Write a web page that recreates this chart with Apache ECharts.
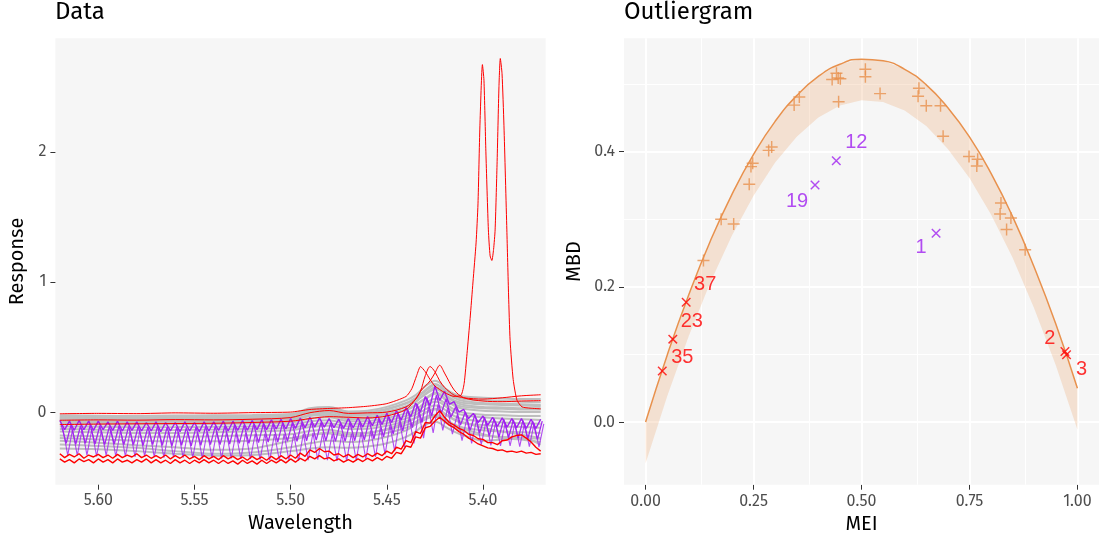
<!DOCTYPE html>
<html>
<head>
<meta charset="utf-8">
<title>Data / Outliergram</title>
<script src="https://cdn.jsdelivr.net/npm/echarts@6/dist/echarts.min.js"></script>
<style>
  html, body { margin: 0; padding: 0; background: #fff; }
  #chart { width: 1099px; height: 543px; }
</style>
</head>
<body>
<div id="chart"></div>
<script>
// ---- left panel: functional data ----
const coarseWaves = [5.62, 5.60, 5.58, 5.56, 5.54, 5.52, 5.50, 5.49, 5.48, 5.47, 5.46, 5.45, 5.44,
  5.435, 5.4325, 5.43, 5.4275, 5.425, 5.4225, 5.42, 5.415, 5.41, 5.40, 5.39, 5.38, 5.37]

const grayCurves = [
  [-0.025,-0.028,-0.03,-0.027,-0.025,-0.022,-0.015,0.03,0.04,0.005,0.01,0.04,0.09,0.13,0.165,0.2,0.225,0.24,0.225,0.185,0.14,0.12,0.11,0.105,0.1,0.1],
  [-0.035,-0.038,-0.04,-0.036,-0.034,-0.03,-0.025,0.02,0.03,0.0,0.0,0.025,0.07,0.11,0.14,0.17,0.2,0.215,0.2,0.16,0.11,0.085,0.07,0.065,0.06,0.055],
  [-0.042,-0.045,-0.048,-0.045,-0.043,-0.04,-0.033,0.012,0.022,-0.01,-0.012,0.02,0.065,0.1,0.13,0.16,0.19,0.21,0.2,0.17,0.12,0.1,0.09,0.085,0.08,0.075],
  [-0.05,-0.053,-0.056,-0.052,-0.05,-0.047,-0.04,0.0,0.01,-0.02,-0.02,0.005,0.045,0.08,0.11,0.135,0.16,0.175,0.165,0.13,0.08,0.055,0.04,0.035,0.03,0.03],
  [-0.056,-0.06,-0.062,-0.058,-0.055,-0.052,-0.046,-0.005,0.0,-0.03,-0.025,0.0,0.04,0.08,0.11,0.14,0.17,0.19,0.18,0.14,0.09,0.07,0.06,0.055,0.05,0.045],
  [-0.065,-0.068,-0.07,-0.067,-0.065,-0.062,-0.057,-0.02,-0.012,-0.045,-0.04,-0.015,0.02,0.055,0.08,0.1,0.125,0.14,0.13,0.1,0.05,0.025,0.01,0.005,0.0,0.0],
  [-0.075,-0.078,-0.08,-0.078,-0.076,-0.072,-0.066,-0.03,-0.022,-0.055,-0.05,-0.025,0.015,0.05,0.08,0.105,0.13,0.15,0.14,0.11,0.06,0.04,0.03,0.025,0.02,0.02],
  [-0.09,-0.093,-0.096,-0.094,-0.092,-0.088,-0.08,-0.05,-0.04,-0.07,-0.068,-0.045,-0.01,0.02,0.045,0.07,0.09,0.1,0.095,0.07,0.02,-0.005,-0.02,-0.025,-0.03,-0.03],
  [-0.11,-0.113,-0.116,-0.115,-0.112,-0.108,-0.1,-0.07,-0.062,-0.09,-0.088,-0.065,-0.03,0.0,0.025,0.05,0.07,0.08,0.075,0.05,0.0,-0.025,-0.04,-0.05,-0.055,-0.06],
  [-0.13,-0.135,-0.14,-0.138,-0.134,-0.128,-0.12,-0.095,-0.085,-0.11,-0.108,-0.085,-0.05,-0.02,0.0,0.02,0.04,0.05,0.045,0.02,-0.03,-0.055,-0.07,-0.08,-0.085,-0.09],
  [-0.15,-0.155,-0.16,-0.16,-0.155,-0.148,-0.14,-0.115,-0.105,-0.13,-0.128,-0.105,-0.07,-0.045,-0.025,-0.005,0.01,0.02,0.015,-0.01,-0.06,-0.085,-0.1,-0.11,-0.115,-0.12],
  [-0.18,-0.185,-0.19,-0.19,-0.186,-0.178,-0.17,-0.145,-0.135,-0.16,-0.158,-0.135,-0.1,-0.075,-0.055,-0.04,-0.025,-0.02,-0.025,-0.05,-0.095,-0.12,-0.14,-0.15,-0.155,-0.16],
  [-0.22,-0.235,-0.255,-0.27,-0.29,-0.28,-0.22,-0.18,-0.155,-0.17,-0.16,-0.13,-0.08,-0.045,-0.025,-0.005,0.015,0.025,0.015,-0.015,-0.055,-0.08,-0.12,-0.15,-0.175,-0.2],
  [-0.25,-0.26,-0.275,-0.3,-0.32,-0.31,-0.27,-0.24,-0.22,-0.23,-0.22,-0.19,-0.14,-0.095,-0.075,-0.055,-0.035,-0.025,-0.035,-0.065,-0.1,-0.13,-0.17,-0.2,-0.21,-0.23],
  [-0.28,-0.285,-0.3,-0.32,-0.335,-0.33,-0.3,-0.28,-0.27,-0.275,-0.265,-0.24,-0.19,-0.15,-0.12,-0.1,-0.08,-0.075,-0.085,-0.11,-0.15,-0.18,-0.22,-0.21,-0.195,-0.25],
  [-0.2,-0.21,-0.22,-0.225,-0.225,-0.22,-0.2,-0.175,-0.165,-0.185,-0.18,-0.16,-0.12,-0.09,-0.07,-0.055,-0.04,-0.035,-0.045,-0.075,-0.12,-0.15,-0.18,-0.19,-0.2,-0.205]
]

// smooth red outliers (top)
const red2 = [-0.063,-0.06,-0.062,-0.058,-0.06,-0.055,-0.042,-0.005,0.012,-0.01,-0.006,0.0,0.04,0.1,0.16,0.28,0.35,0.31,0.24,0.19,0.13,0.11,0.1,0.11,0.125,0.133]
const red3 = [-0.096,-0.092,-0.09,-0.088,-0.086,-0.08,-0.07,-0.05,-0.035,-0.04,-0.045,-0.03,0.02,0.1,0.16,0.2,0.24,0.3,0.36,0.3,0.17,0.11,0.085,0.08,0.085,0.088]

// red outlier with the double peak
const peakWaves = [5.62, 5.60, 5.58, 5.56, 5.54, 5.52, 5.50, 5.49, 5.48, 5.47, 5.46, 5.45, 5.44, 5.437, 5.4345,
  5.4325, 5.43, 5.4275, 5.425, 5.42, 5.415, 5.4114, 5.4098, 5.4083, 5.4067, 5.4052, 5.4036, 5.4026, 5.4016,
  5.4003, 5.3995, 5.3985, 5.3972, 5.3963, 5.3954, 5.3945, 5.3937, 5.3927, 5.3917, 5.391, 5.3901, 5.3891,
  5.3876, 5.3867, 5.3859, 5.3843, 5.3823, 5.3797, 5.3755, 5.37]
const peakValues = [-0.013, -0.01, -0.012, -0.006, -0.009, -0.004, 0.0, 0.02, 0.028, 0.034, 0.045, 0.065, 0.12,
  0.18, 0.28, 0.35, 0.31, 0.25, 0.2, 0.15, 0.12, 0.13, 0.22, 0.45, 0.72, 1.0, 1.3, 1.6, 2.2, 2.67, 2.55, 2.0,
  1.4, 1.2, 1.165, 1.25, 1.4, 1.9, 2.5, 2.717, 2.6, 2.2, 1.4, 0.9, 0.55, 0.25, 0.09, 0.04, 0.03, 0.025]

// noisy curves sampled every 0.0025 from 5.62 down to 5.37
const fineWaves = []
for (let i = 0; i <= 100; i++) fineWaves.push(+(5.62 - i * 0.0025).toFixed(4))

const purple1 = [
  -0.065,-0.135,-0.07,-0.14,-0.065,-0.135,-0.07,-0.14,-0.07,-0.135,
  -0.075,-0.14,-0.07,-0.145,-0.075,-0.14,-0.075,-0.145,-0.08,-0.145,
  -0.075,-0.15,-0.08,-0.145,-0.08,-0.15,-0.075,-0.145,-0.08,-0.15,
  -0.075,-0.145,-0.075,-0.14,-0.07,-0.145,-0.07,-0.14,-0.065,-0.14,
  -0.065,-0.135,-0.06,-0.135,-0.06,-0.13,-0.055,-0.13,-0.05,-0.125,
  -0.045,-0.12,-0.04,-0.115,-0.045,-0.115,-0.05,-0.12,-0.055,-0.125,
  -0.05,-0.12,-0.045,-0.115,-0.035,-0.105,-0.025,-0.095,-0.01,-0.08,
  0.01,-0.06,0.035,-0.035,0.07,0.0,0.12,0.05,0.2,0.09,
  0.16,0.06,0.08,0.0,0.02,-0.05,-0.01,-0.08,-0.03,-0.1,
  -0.04,-0.11,-0.045,-0.115,-0.05,-0.12,-0.05,-0.125,-0.055,-0.125,
  -0.055]
const purple2 = [
  -0.1,-0.24,-0.1,-0.245,-0.105,-0.24,-0.1,-0.245,-0.105,-0.25,
  -0.11,-0.245,-0.105,-0.25,-0.11,-0.25,-0.11,-0.255,-0.115,-0.25,
  -0.11,-0.255,-0.115,-0.26,-0.115,-0.255,-0.12,-0.26,-0.115,-0.255,
  -0.11,-0.25,-0.11,-0.25,-0.105,-0.245,-0.1,-0.24,-0.1,-0.24,
  -0.095,-0.235,-0.09,-0.23,-0.09,-0.23,-0.085,-0.225,-0.085,-0.225,
  -0.08,-0.22,-0.075,-0.215,-0.08,-0.22,-0.085,-0.225,-0.085,-0.225,
  -0.08,-0.22,-0.075,-0.215,-0.065,-0.205,-0.05,-0.19,-0.03,-0.17,
  -0.005,-0.145,0.02,-0.12,0.06,-0.08,0.11,-0.03,0.13,-0.01,
  0.1,-0.04,0.04,-0.1,0.0,-0.14,-0.02,-0.16,-0.04,-0.18,
  -0.05,-0.19,-0.055,-0.195,-0.06,-0.2,-0.065,-0.205,-0.07,-0.21,
  -0.07]
const purple3 = [
  -0.13,-0.33,-0.135,-0.335,-0.13,-0.33,-0.135,-0.34,-0.14,-0.335,
  -0.135,-0.34,-0.14,-0.34,-0.145,-0.345,-0.14,-0.34,-0.145,-0.345,
  -0.15,-0.35,-0.145,-0.345,-0.15,-0.35,-0.15,-0.35,-0.155,-0.355,
  -0.15,-0.35,-0.15,-0.355,-0.155,-0.355,-0.16,-0.36,-0.16,-0.36,
  -0.165,-0.365,-0.165,-0.37,-0.17,-0.37,-0.17,-0.37,-0.17,-0.375,
  -0.165,-0.37,-0.16,-0.365,-0.165,-0.37,-0.17,-0.375,-0.17,-0.375,
  -0.165,-0.37,-0.155,-0.36,-0.14,-0.345,-0.12,-0.325,-0.1,-0.3,
  -0.07,-0.27,-0.04,-0.24,0.0,-0.2,0.04,-0.16,0.06,-0.14,
  0.03,-0.17,-0.02,-0.22,-0.05,-0.24,-0.06,-0.25,-0.07,-0.255,
  -0.075,-0.26,-0.08,-0.26,-0.08,-0.265,-0.085,-0.265,-0.085,-0.27,
  -0.09]

// noisy red outliers (bottom)
const red4 = [
  -0.32,-0.35,-0.325,-0.345,-0.32,-0.355,-0.33,-0.345,-0.325,-0.35,
  -0.33,-0.355,-0.325,-0.35,-0.33,-0.345,-0.32,-0.35,-0.33,-0.355,
  -0.335,-0.355,-0.33,-0.36,-0.335,-0.355,-0.33,-0.36,-0.34,-0.365,
  -0.335,-0.36,-0.34,-0.365,-0.335,-0.36,-0.34,-0.365,-0.345,-0.37,
  -0.34,-0.365,-0.345,-0.37,-0.34,-0.365,-0.335,-0.36,-0.33,-0.355,
  -0.315,-0.34,-0.29,-0.31,-0.28,-0.305,-0.3,-0.33,-0.32,-0.345,
  -0.325,-0.35,-0.325,-0.345,-0.32,-0.34,-0.315,-0.335,-0.3,-0.32,
  -0.27,-0.285,-0.22,-0.235,-0.15,-0.165,-0.08,-0.085,-0.03,0.01,
  -0.04,-0.08,-0.1,-0.125,-0.14,-0.17,-0.18,-0.205,-0.21,-0.235,
  -0.235,-0.25,-0.22,-0.215,-0.19,-0.18,-0.175,-0.2,-0.23,-0.27,
  -0.3]
const red5 = [
  -0.36,-0.385,-0.365,-0.39,-0.36,-0.38,-0.365,-0.39,-0.36,-0.385,
  -0.365,-0.39,-0.36,-0.385,-0.37,-0.39,-0.365,-0.385,-0.36,-0.39,
  -0.365,-0.39,-0.37,-0.395,-0.365,-0.39,-0.37,-0.395,-0.37,-0.39,
  -0.365,-0.39,-0.37,-0.395,-0.37,-0.395,-0.375,-0.4,-0.37,-0.395,
  -0.375,-0.4,-0.37,-0.395,-0.37,-0.39,-0.365,-0.39,-0.36,-0.385,
  -0.355,-0.375,-0.34,-0.36,-0.335,-0.36,-0.35,-0.375,-0.36,-0.385,
  -0.365,-0.385,-0.36,-0.38,-0.355,-0.375,-0.35,-0.37,-0.34,-0.355,
  -0.31,-0.32,-0.26,-0.27,-0.19,-0.2,-0.12,-0.11,-0.07,-0.04,
  -0.07,-0.1,-0.12,-0.15,-0.17,-0.2,-0.22,-0.245,-0.26,-0.275,
  -0.28,-0.295,-0.29,-0.305,-0.3,-0.31,-0.3,-0.315,-0.31,-0.325,
  -0.32]

const waveTicks = [5.40, 5.45, 5.50, 5.55, 5.60]
const responseTicks = [0, 1, 2]

// ---- right panel: outliergram ----
const meiGrid = [0, 0.05, 0.1, 0.15, 0.2, 0.25, 0.3, 0.35, 0.4, 0.45, 0.5, 0.55, 0.6, 0.65, 0.7, 0.75, 0.8, 0.85, 0.9, 0.95, 1]
const upperBand = [0.0, 0.099, 0.1885, 0.268, 0.337, 0.396, 0.445, 0.483, 0.5115, 0.5295, 0.537, 0.5345, 0.522, 0.499, 0.465, 0.422, 0.368, 0.304, 0.229, 0.145, 0.05]
const lowerBand = [-0.061, 0.038, 0.1275, 0.207, 0.276, 0.335, 0.384, 0.422, 0.4505, 0.4685, 0.476, 0.4735, 0.461, 0.438, 0.404, 0.361, 0.307, 0.243, 0.168, 0.084, -0.011]

const inlierMEI = [0.509, 0.509, 0.442, 0.446, 0.432, 0.451, 0.447, 0.543, 0.633, 0.631, 0.650, 0.683, 0.689, 0.356, 0.344, 0.292,
  0.285, 0.248, 0.244, 0.240, 0.175, 0.204, 0.134, 0.749, 0.769, 0.767, 0.823, 0.821, 0.846, 0.836, 0.879]
const inlierMBD = [0.522, 0.511, 0.516, 0.509, 0.507, 0.508, 0.474, 0.486, 0.494, 0.482, 0.468, 0.468, 0.423, 0.481, 0.469, 0.407,
  0.402, 0.383, 0.378, 0.352, 0.300, 0.293, 0.239, 0.393, 0.389, 0.379, 0.324, 0.308, 0.302, 0.285, 0.255]

const shapeIds = ['1', '12', '19']
const shapeMEI = [0.6727, 0.4416, 0.3924]
const shapeMBD = [0.2794, 0.3867, 0.3508]
const magIds = ['2', '3', '23', '35', '37']
const magMEI = [0.9711, 0.9748, 0.063, 0.0386, 0.094]
const magMBD = [0.1044, 0.0995, 0.1227, 0.0754, 0.1774]

const meiTicks = [0, 0.25, 0.5, 0.75, 1]
const mbdTicks = [0, 0.2, 0.4]
const meiMinor = [0.125, 0.375, 0.625, 0.875]
const mbdMinor = [0.1, 0.3, 0.5]

// label nudges in pixels, by id
const labelNudge = {
  '1': [-15, 14], '12': [20, -18], '19': [-18, 17],
  '2': [-15, -13], '3': [15, 15], '23': [19, -18], '35': [20, -14], '37': [19, -18]
}

const FONT = "'Fira Sans', 'Open Sans', sans-serif"
const ORANGE = '#E8914D'
const PURPLE = '#A020F0'
const RED = '#FF0000'
const PANEL_BG = '#F6F6F6'
const plusPath = 'path://M-0.12,-1H0.12V1H-0.12Z M-1,-0.12H1V0.12H-1Z'
const crossPath = 'path://M-0.12,-1H0.12V1H-0.12Z M-1,-0.12H1V0.12H-1Z'

const zip = (xs, ys) => ys.map((y, i) => [xs[i], y])

const curve = (xs, ys, color, width, extra) => Object.assign({
  type: 'line',
  xAxisIndex: 0,
  yAxisIndex: 0,
  data: zip(xs, ys),
  symbol: 'none',
  lineStyle: { color, width },
  silent: true
}, extra || {})

const tickStyle = { show: true, length: 5, lineStyle: { color: '#333', width: 1 } }
const labelStyle = { fontFamily: FONT, fontSize: 16, color: '#4D4D4D' }
const nameStyle = { fontFamily: FONT, fontSize: 20, color: '#000' }

const series = []
grayCurves.forEach(g => series.push(curve(coarseWaves, g, '#BEBEBE', 2, { smooth: 0.3 })))
series.push(curve(fineWaves, purple1, PURPLE, 1, { lineStyle: { color: PURPLE, width: 1.4, opacity: 1 } }))
series.push(curve(fineWaves.map(w => w - 0.0008), purple2, PURPLE, 1, { lineStyle: { color: PURPLE, width: 1.3, opacity: 0.95 } }))
series.push(curve(fineWaves.map(w => w - 0.0016), purple3, PURPLE, 1, { lineStyle: { color: PURPLE, width: 1.1, opacity: 0.8 } }))
series.push(curve(coarseWaves, red2, RED, 1, { smooth: 0.3 }))
series.push(curve(coarseWaves, red3, RED, 1, { smooth: 0.3 }))
series.push(curve(peakWaves, peakValues, RED, 1, { smooth: 0.2 }))
series.push(curve(fineWaves, red4, RED, 1.4))
series.push(curve(fineWaves, red5, RED, 1.4))

// outliergram
const gridLines = []
meiTicks.forEach(v => gridLines.push({ xAxis: v, lineStyle: { width: 2 } }))
meiMinor.forEach(v => gridLines.push({ xAxis: v, lineStyle: { width: 1 } }))
mbdTicks.forEach(v => gridLines.push({ yAxis: v, lineStyle: { width: 2 } }))
mbdMinor.forEach(v => gridLines.push({ yAxis: v, lineStyle: { width: 1 } }))

// band between lower and upper limits, drawn as one polygon in data coordinates
series.push({
  type: 'custom', xAxisIndex: 1, yAxisIndex: 1, z: 2, silent: true,
  data: [[0, 0]],
  renderItem: (params, api) => {
    const pts = meiGrid.map((m, i) => api.coord([m, upperBand[i]]))
    for (let i = meiGrid.length - 1; i >= 0; i--) pts.push(api.coord([meiGrid[i], lowerBand[i]]))
    return {
      type: 'polygon',
      shape: { points: pts },
      style: { fill: 'rgba(232, 145, 77, 0.22)' }
    }
  },
  markLine: {
    silent: true, symbol: ['none', 'none'], label: { show: false },
    lineStyle: { color: '#FFFFFF', type: 'solid' }, animation: false, z: 1,
    data: gridLines
  }
})
series.push({
  type: 'line', xAxisIndex: 1, yAxisIndex: 1, z: 3,
  data: zip(meiGrid, upperBand), smooth: true, symbol: 'none',
  lineStyle: { color: ORANGE, width: 1.5 }, silent: true
})
series.push({
  type: 'scatter', xAxisIndex: 1, yAxisIndex: 1, z: 4,
  data: zip(inlierMEI, inlierMBD), symbol: plusPath, symbolSize: 12,
  itemStyle: { color: ORANGE }, silent: true
})

const outlierItems = (ids, xs, ys) => ids.map((id, i) => ({
  name: id, value: [xs[i], ys[i]], label: { offset: labelNudge[id] }
}))
const outlierLabel = color => ({
  show: true, position: 'inside', formatter: p => p.name,
  fontFamily: "'Liberation Sans', Arial, sans-serif", fontSize: 20, color,
  textBorderWidth: 0, textShadowBlur: 0
})
series.push({
  type: 'scatter', xAxisIndex: 1, yAxisIndex: 1, z: 5,
  data: outlierItems(shapeIds, shapeMEI, shapeMBD), symbol: crossPath, symbolSize: 12, symbolRotate: 45,
  itemStyle: { color: PURPLE }, label: outlierLabel(PURPLE), silent: true
})
series.push({
  type: 'scatter', xAxisIndex: 1, yAxisIndex: 1, z: 5,
  data: outlierItems(magIds, magMEI, magMBD), symbol: crossPath, symbolSize: 12, symbolRotate: 45,
  itemStyle: { color: RED }, label: outlierLabel(RED), silent: true
})

const option = {
  animation: false,
  backgroundColor: '#FFFFFF',
  title: [
    { text: 'Data', left: 55, top: 0, padding: 0, textStyle: { fontFamily: FONT, fontSize: 24, fontWeight: 'normal', color: '#000' } },
    { text: 'Outliergram', left: 624, top: 0, padding: 0, textStyle: { fontFamily: FONT, fontSize: 24, fontWeight: 'normal', color: '#000' } }
  ],
  grid: [
    { left: 55.4, top: 38.2, width: 490.3, height: 446.5, show: true, backgroundColor: PANEL_BG, borderWidth: 0 },
    { left: 624, top: 38.2, width: 476.5, height: 446.5, show: true, backgroundColor: PANEL_BG, borderWidth: 0 }
  ],
  xAxis: [
    {
      gridIndex: 0, type: 'value', min: 5.3674, max: 5.6223, inverse: true,
      name: 'Wavelength', nameLocation: 'middle', nameGap: 28, nameTextStyle: nameStyle,
      axisLine: { show: false, onZero: false }, splitLine: { show: false },
      axisTick: Object.assign({ customValues: waveTicks }, tickStyle),
      axisLabel: Object.assign({ customValues: waveTicks, margin: 8, formatter: v => v.toFixed(2) }, labelStyle)
    },
    {
      gridIndex: 1, type: 'value', min: -0.05, max: 1.05,
      name: 'MEI', nameLocation: 'middle', nameGap: 28, nameTextStyle: nameStyle,
      axisLine: { show: false, onZero: false }, splitLine: { show: false },
      axisTick: Object.assign({ customValues: meiTicks }, tickStyle),
      axisLabel: Object.assign({ customValues: meiTicks, margin: 9, formatter: v => v.toFixed(2) }, labelStyle)
    }
  ],
  yAxis: [
    {
      gridIndex: 0, type: 'value', min: -0.558, max: 2.873,
      name: 'Response', nameLocation: 'middle', nameGap: 28, nameRotate: 90, nameTextStyle: nameStyle,
      axisLine: { show: false, onZero: false }, splitLine: { show: false },
      axisTick: Object.assign({ customValues: responseTicks }, tickStyle),
      axisLabel: Object.assign({ customValues: responseTicks, margin: 9, formatter: v => String(v) }, labelStyle)
    },
    {
      gridIndex: 1, type: 'value', min: -0.0927, max: 0.568,
      name: 'MBD', nameLocation: 'middle', nameGap: 40, nameRotate: 90, nameTextStyle: nameStyle,
      axisLine: { show: false, onZero: false }, splitLine: { show: false },
      axisTick: Object.assign({ customValues: mbdTicks }, tickStyle),
      axisLabel: Object.assign({ customValues: mbdTicks, margin: 9, formatter: v => v.toFixed(1) }, labelStyle)
    }
  ],
  series
}

const chart = echarts.init(document.getElementById('chart'), null, { renderer: 'canvas', width: 1099, height: 543 })
chart.setOption(option)
window.addEventListener('resize', () => chart.resize())
</script>
</body>
</html>
